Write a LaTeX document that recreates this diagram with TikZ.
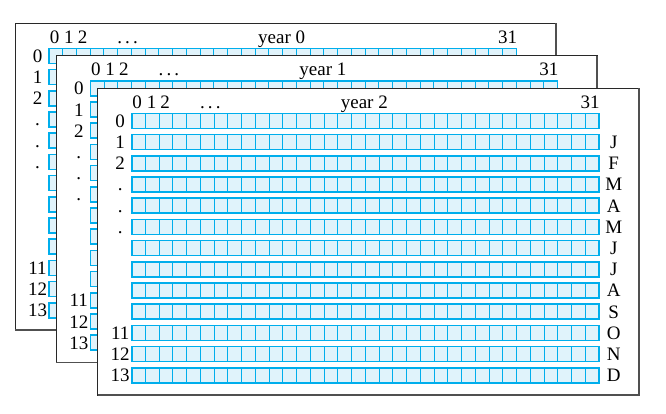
\documentclass[tikz,border=0pt]{standalone}
\usepackage{fontspec}
\setmainfont{Liberation Serif}
\definecolor{cellfill}{RGB}{224,243,251}
\definecolor{cellline}{RGB}{0,174,236}
\definecolor{pageline}{RGB}{40,40,40}
\definecolor{pageshadow}{RGB}{80,80,80}
\tikzset{
  pagebg/.style={fill=white,draw=pageline,line width=0.8pt},
  pageshade/.style={draw=pageshadow,line width=1.8pt},
  cellrow/.style={fill=cellfill,draw=cellline,line width=1.6pt},
  cellbox/.style={draw=cellline,line width=1.0pt},
  lbl/.style={inner sep=0pt,anchor=base,text=black},
}
\begin{document}
\begin{tikzpicture}[x=1pt,y=-1pt,font=\fontsize{19}{21}\selectfont]
\useasboundingbox (0,0) rectangle (666,413);
\foreach \L/\T/\n in {15/23/0,56.3/55.5/1,97.7/88/2}{
  \begin{scope}[shift={(\L,\T)}]
    \draw[pagebg] (0,0) rectangle (541,307);
    \draw[pageshade] (541,0) -- (541,307) -- (0,307);
    \foreach \k in {0,...,12}{
      \pgfmathsetmacro\ty{25.3+21.2*\k}
      \draw[cellrow] (34,\ty) rectangle ++(467.3,15);
      \foreach \c in {0,...,33}
        \draw[cellbox] ({34+13.744*\c},\ty) rectangle ++(13.744,15);
    }
    \node[lbl] (h0-\n) at (39.5,20.3) {0};
    \node[lbl] (h1-\n) at (53.8,20.3) {1};
    \node[lbl] (h2-\n) at (67.5,20.3) {2};
    \node[lbl] (hd-\n) at (112.6,20.3) {.\,.\,.};
    \node[lbl] (yr-\n) at (266.6,20.3) {year \n};
    \node[lbl] (h31-\n) at (492.5,20.3) {31};
    \foreach \k/\lab in {0/0,1/1,2/2,3/.,4/.,5/.,10/11,11/12,12/13}{
      \node[lbl] (r\k-\n) at (22.5,{39.3+21.2*\k}) {\lab};
    }
  \end{scope}
}
\begin{scope}[shift={(97.7,88)}]
  \foreach \k/\m in {1/J,2/F,3/M,4/A,5/M,6/J,7/J,8/A,9/S,10/O,11/N,12/D}{
    \node[lbl] (m\k) at (516,{39.3+21.2*\k}) {\m};
  }
\end{scope}
\end{tikzpicture}
\end{document}
